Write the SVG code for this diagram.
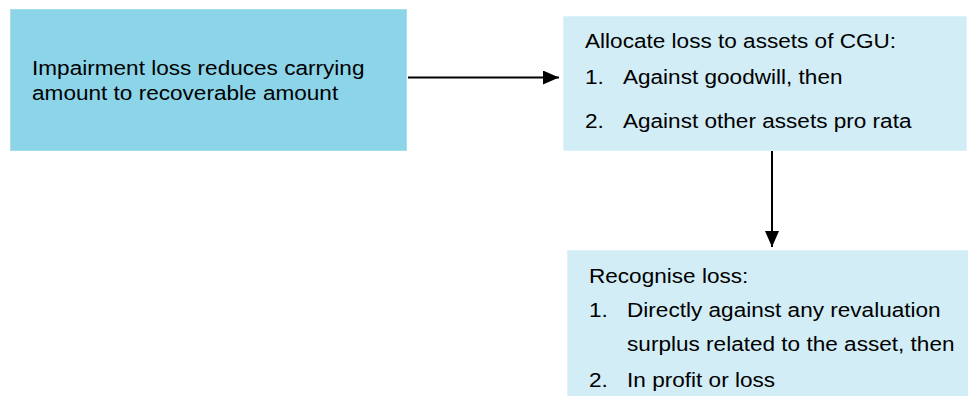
<svg xmlns="http://www.w3.org/2000/svg" width="968" height="396" viewBox="0 0 968 396">
<style>
.dark{fill:#8CD4E8;stroke:#A8DFEE;stroke-width:1}
.light{fill:#D2EDF6;stroke:#DDF2F9;stroke-width:1}
.t{font-family:"Liberation Sans",Arial,sans-serif;font-size:21px;fill:#000}
.conn{stroke:#000;stroke-width:2;fill:none}
</style>
<defs>
<marker id="ah" viewBox="0 0 16 14" refX="16" refY="7" markerWidth="16" markerHeight="14" markerUnits="userSpaceOnUse" orient="auto">
<path d="M0,0 L16,7 L0,14 Z" fill="#000"/>
</marker>
</defs>
<rect width="968" height="396" fill="#fff"/>
<g id="node-impairment">
<rect class="dark" x="10.5" y="9.5" width="396" height="141"/>
<g transform="scale(1.075,1)">
<text class="t" x="29.8" y="75">Impairment loss reduces carrying</text>
<text class="t" x="29.8" y="100">amount to recoverable amount</text>
</g>
</g>
<g id="node-allocate">
<rect class="light" x="563.5" y="16.5" width="403" height="134"/>
<g transform="scale(1.075,1)">
<text class="t" x="544.2" y="48">Allocate loss to assets of CGU:</text>
<text class="t" x="544.2" y="84">1.</text>
<text class="t" x="579.5" y="84">Against goodwill, then</text>
<text class="t" x="544.2" y="128">2.</text>
<text class="t" x="579.5" y="128">Against other assets pro rata</text>
</g>
</g>
<g id="node-recognise">
<rect class="light" x="567.5" y="250.5" width="410" height="160"/>
<g transform="scale(1.075,1)">
<text class="t" x="547.9" y="283">Recognise loss:</text>
<text class="t" x="547.9" y="317">1.</text>
<text class="t" x="583.3" y="317">Directly against any revaluation</text>
<text class="t" x="583.3" y="351">surplus related to the asset, then</text>
<text class="t" x="547.9" y="387">2.</text>
<text class="t" x="583.3" y="387">In profit or loss</text>
</g>
</g>
<g id="connectors">
<line class="conn" x1="408" y1="77.5" x2="559" y2="77.5" marker-end="url(#ah)"/>
<line class="conn" x1="772" y1="151" x2="772" y2="247" marker-end="url(#ah)"/>
</g>
</svg>
